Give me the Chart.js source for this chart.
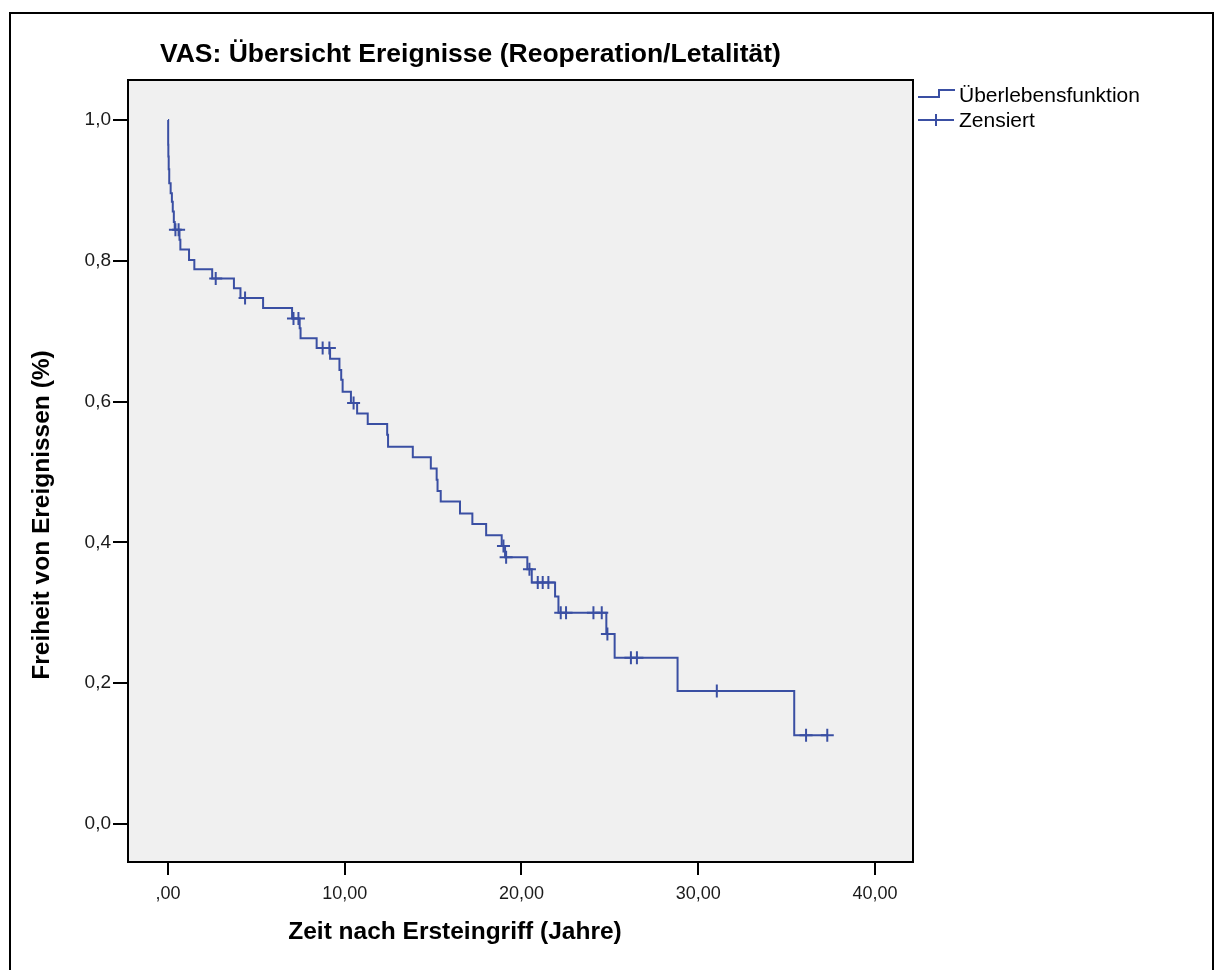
<!DOCTYPE html>
<html>
<head>
<meta charset="utf-8">
<script src="https://cdn.jsdelivr.net/npm/chart.js@4.4.1/dist/chart.umd.min.js"></script>
<style>
  html, body { margin: 0; padding: 0; background: #ffffff; }
  #wrap { position: absolute; left: 0; top: 0; width: 1216px; height: 970px; }
</style>
</head>
<body>
<div id="wrap"><canvas id="c" width="1216" height="970"></canvas></div>
<script>
// ---- data ----
const chartTitle = "VAS: Übersicht Ereignisse (Reoperation/Letalität)";
const xAxisTitle = "Zeit nach Ersteingriff (Jahre)";
const yAxisTitle = "Freiheit von Ereignissen (%)";
const seriesNames = ["Überlebensfunktion", "Zensiert"];

const eventTimes = [0, 0.01, 0.02, 0.04, 0.07, 0.15, 0.22, 0.27, 0.33, 0.38, 0.65, 0.70, 1.19, 1.49, 2.50,
  3.73, 4.10, 5.38, 7.02, 7.45, 7.50, 8.41, 9.17, 9.70, 9.80, 9.88, 10.35, 10.70, 11.30, 12.40, 12.45,
  13.85, 14.87, 15.20, 15.25, 15.43, 16.52, 17.22, 18.00, 18.88, 19.07, 20.33, 20.58, 21.90, 22.09,
  24.80, 25.27, 28.83, 35.43];
const survival = [1.000, 0.965, 0.948, 0.930, 0.910, 0.896, 0.884, 0.870, 0.855, 0.844, 0.830, 0.816, 0.801, 0.788, 0.775,
  0.761, 0.747, 0.733, 0.718, 0.704, 0.690, 0.676, 0.661, 0.645, 0.631, 0.614, 0.598, 0.583, 0.568, 0.553, 0.536,
  0.521, 0.505, 0.489, 0.473, 0.458, 0.441, 0.426, 0.410, 0.395, 0.379, 0.362, 0.343, 0.323, 0.300,
  0.270, 0.236, 0.189, 0.126];
const censoredTimes = [0.42, 0.60, 2.70, 4.36, 7.10, 7.38, 8.75, 9.13, 10.50, 18.98, 19.13, 20.45, 20.92, 21.20,
  21.52, 22.22, 22.52, 24.07, 24.54, 24.86, 26.19, 26.53, 31.05, 36.10, 37.30];

const xTicks = [0, 10, 20, 30, 40];
const yTicks = [0, 0.2, 0.4, 0.6, 0.8, 1.0];

// ---- build datasets from the arrays ----
function survAt(t) {
  let s = survival[0];
  for (let i = 0; i < eventTimes.length; i++) { if (eventTimes[i] <= t) s = survival[i]; }
  return s;
}
const lastTime = Math.max(eventTimes[eventTimes.length - 1], censoredTimes[censoredTimes.length - 1]);
const lineData = eventTimes.map((t, i) => ({ x: t, y: survival[i] }));
lineData.push({ x: lastTime, y: survAt(lastTime) });
const censData = censoredTimes.map(t => ({ x: t, y: survAt(t) }));

const BLUE = '#3a4fa3';

const decor = {
  id: 'decor',
  beforeDraw(chart) {
    const ctx = chart.ctx;
    const a = chart.chartArea;
    ctx.save();
    ctx.fillStyle = '#ffffff';
    ctx.fillRect(0, 0, chart.width, chart.height);
    // outer frame
    ctx.strokeStyle = '#000000';
    ctx.lineWidth = 2;
    ctx.strokeRect(10, 13, 1203, 990);
    // plot background
    ctx.fillStyle = '#f0f0f0';
    ctx.fillRect(a.left, a.top, a.right - a.left, a.bottom - a.top);
    ctx.restore();
  },
  afterDraw(chart) {
    const ctx = chart.ctx;
    const a = chart.chartArea;
    ctx.save();
    // plot frame
    ctx.strokeStyle = '#000000';
    ctx.lineWidth = 2;
    ctx.strokeRect(a.left, a.top, a.right - a.left, a.bottom - a.top);
    // title
    ctx.fillStyle = '#000000';
    ctx.font = 'bold 26.5px "Liberation Sans", Arial, sans-serif';
    ctx.textBaseline = 'middle';
    ctx.textAlign = 'left';
    ctx.fillText(chartTitle, 160, 55);
    // x axis title
    ctx.font = 'bold 24.5px "Liberation Sans", Arial, sans-serif';
    ctx.textAlign = 'center';
    ctx.fillText(xAxisTitle, 455, 932);
    // y axis title
    ctx.save();
    ctx.translate(42, 515);
    ctx.rotate(-Math.PI / 2);
    ctx.fillText(yAxisTitle, 0, 0);
    ctx.restore();
    // legend
    const lx = a.right + 5;
    ctx.strokeStyle = BLUE;
    ctx.lineWidth = 2;
    ctx.beginPath();
    ctx.moveTo(lx, 97); ctx.lineTo(lx + 21, 97); ctx.lineTo(lx + 21, 90); ctx.lineTo(lx + 37, 90);
    ctx.stroke();
    ctx.beginPath();
    ctx.moveTo(lx, 120); ctx.lineTo(lx + 36, 120);
    ctx.moveTo(lx + 18, 114); ctx.lineTo(lx + 18, 126);
    ctx.stroke();
    ctx.fillStyle = '#000000';
    ctx.font = '21px "Liberation Sans", Arial, sans-serif';
    ctx.textAlign = 'left';
    ctx.fillText(chart.data.datasets[0].label, lx + 41, 96);
    ctx.fillText(chart.data.datasets[1].label, lx + 41, 121);
    ctx.restore();
  }
};

new Chart(document.getElementById('c'), {
  type: 'scatter',
  data: {
    datasets: [
      {
        label: seriesNames[0],
        data: lineData,
        showLine: true,
        stepped: 'before',
        borderColor: BLUE,
        borderWidth: 2,
        pointRadius: 0,
        fill: false
      },
      {
        label: seriesNames[1],
        data: censData,
        showLine: false,
        pointStyle: 'cross',
        pointRadius: 6.5,
        pointBorderWidth: 2,
        borderColor: BLUE,
        backgroundColor: BLUE
      }
    ]
  },
  plugins: [decor],
  options: {
    responsive: false,
    animation: false,
    layout: { padding: { left: 0, top: 80, right: 303, bottom: 0 } },
    plugins: { legend: { display: false }, title: { display: false }, tooltip: { enabled: false } },
    scales: {
      x: {
        type: 'linear',
        min: -2.263,
        max: 42.15,
        border: { display: false },
        grid: { drawOnChartArea: false, drawTicks: true, tickLength: 13, color: '#000000', lineWidth: 2 },
        ticks: {
          color: '#1a1a1a',
          font: { family: '"Liberation Sans", Arial, sans-serif', size: 18 },
          padding: 8,
          callback: v => (v === 0 ? ',00' : v.toFixed(2).replace('.', ','))
        },
        afterBuildTicks: s => { s.ticks = xTicks.map(v => ({ value: v })); },
        afterFit: s => { s.height = 108; }
      },
      y: {
        type: 'linear',
        min: -0.054,
        max: 1.0568,
        border: { display: false },
        grid: { drawOnChartArea: false, drawTicks: true, tickLength: 15, color: '#000000', lineWidth: 2 },
        ticks: {
          color: '#1a1a1a',
          font: { family: '"Liberation Sans", Arial, sans-serif', size: 19 },
          padding: 2,
          callback: v => v.toFixed(1).replace('.', ',')
        },
        afterBuildTicks: s => { s.ticks = yTicks.map(v => ({ value: v })); },
        afterFit: s => { s.width = 128; }
      }
    }
  }
});
</script>
</body>
</html>
